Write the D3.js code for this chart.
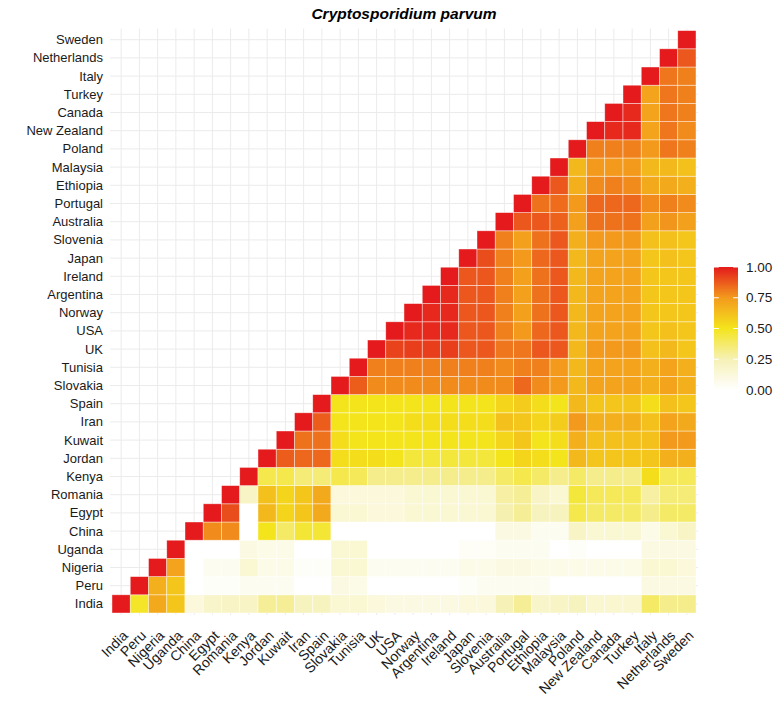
<!DOCTYPE html>
<html>
<head>
<meta charset="utf-8">
<script src="https://cdn.jsdelivr.net/npm/d3@7"></script>
<style>
  body { margin: 0; background: #fff; }
  svg { display: block; font-family: "Liberation Sans", Arial, sans-serif; }
</style>
</head>
<body>
<svg id="chart" width="778" height="709"></svg>
<script>
// countries, bottom row / left column first
const countries = ['India', 'Peru', 'Nigeria', 'Uganda', 'China', 'Egypt', 'Romania', 'Kenya',
  'Jordan', 'Kuwait', 'Iran', 'Spain', 'Slovakia', 'Tunisia', 'UK', 'USA', 'Norway', 'Argentina',
  'Ireland', 'Japan', 'Slovenia', 'Australia', 'Portugal', 'Ethiopia', 'Malaysia', 'Poland',
  'New Zealand', 'Canada', 'Turkey', 'Italy', 'Netherlands', 'Sweden'];

// similarity of row country i with column countries j = i..31
const similarityRows = [
  [1, .48, .7, .6, .12, .18, .2, .2, .3, .3, .22, .22, .15, .15, .12, .1, .1, .1, .1, .12, .12, .25, .3, .18, .2, .22, .16, .16, .16, .38, .32, .32],
  [1, .68, .6, 0, .02, .02, .05, .05, .05, 0, 0, .1, .08, 0, 0, 0, 0, 0, .02, .05, .05, .05, .05, 0, 0, 0, 0, 0, .1, .1, .1],
  [1, .72, 0, .05, .05, .15, .08, .08, .02, .02, .15, .15, .05, .05, .05, .05, .05, .08, .08, .1, .1, .08, .08, .08, .08, .08, .08, .15, .15, .12],
  [1, 0, 0, 0, .1, .08, .08, 0, 0, .15, .15, 0, 0, 0, 0, 0, .03, .03, .05, .05, .05, 0, .02, 0, 0, 0, .1, .1, .1],
  [1, .78, .78, 0, .5, .38, .46, .46, 0, 0, 0, 0, 0, 0, 0, 0, 0, .1, .1, .05, .05, .2, .15, .15, .15, .08, .15, .2],
  [1, .9, 0, .65, .55, .6, .7, .15, .15, .12, .12, .15, .15, .15, .15, .15, .26, .3, .22, .22, .42, .38, .38, .38, .32, .38, .38],
  [1, .2, .62, .55, .6, .7, .12, .12, .12, .12, .15, .15, .15, .15, .15, .28, .3, .2, .15, .45, .4, .4, .4, .28, .35, .35],
  [1, .42, .42, .35, .35, .42, .4, .32, .32, .32, .32, .32, .32, .32, .38, .42, .38, .32, .38, .32, .32, .32, .52, .4, .4],
  [1, .87, .85, .85, .52, .52, .52, .5, .45, .45, .45, .45, .45, .5, .55, .52, .5, .65, .6, .6, .6, .6, .68, .68],
  [1, .83, .83, .52, .5, .5, .5, .5, .5, .5, .5, .5, .55, .6, .5, .52, .68, .62, .62, .62, .62, .75, .75],
  [1, .87, .5, .5, .5, .5, .52, .52, .52, .52, .52, .62, .6, .55, .58, .75, .68, .68, .68, .62, .72, .7],
  [1, .5, .5, .5, .5, .5, .5, .5, .5, .5, .55, .58, .52, .5, .65, .6, .6, .6, .52, .62, .6],
  [1, .87, .78, .78, .78, .78, .78, .78, .78, .78, .85, .78, .75, .65, .72, .72, .72, .68, .72, .68],
  [1, .8, .8, .8, .8, .8, .8, .8, .78, .8, .8, .75, .65, .72, .72, .72, .68, .72, .68],
  [1, .92, .93, .93, .93, .88, .88, .82, .82, .88, .88, .65, .75, .75, .75, .62, .65, .6],
  [1, .97, .97, .97, .88, .88, .8, .75, .85, .88, .65, .72, .72, .72, .6, .62, .6],
  [1, .97, .97, .88, .88, .8, .73, .83, .88, .65, .72, .72, .72, .6, .6, .6],
  [1, .97, .88, .88, .8, .73, .83, .88, .65, .72, .72, .72, .6, .6, .6],
  [1, .88, .88, .8, .73, .83, .88, .65, .72, .72, .72, .6, .6, .6],
  [1, .9, .8, .75, .85, .88, .65, .72, .72, .72, .6, .62, .6],
  [1, .8, .73, .83, .88, .68, .75, .75, .75, .62, .62, .6],
  [1, .88, .88, .86, .73, .83, .83, .83, .73, .76, .73],
  [1, .83, .84, .75, .85, .85, .85, .78, .8, .78],
  [1, .88, .68, .78, .8, .78, .7, .7, .68],
  [1, .65, .75, .75, .75, .65, .65, .62],
  [1, .8, .8, .8, .75, .82, .8],
  [1, .97, .97, .72, .82, .78],
  [1, .97, .72, .82, .8],
  [1, .72, .82, .8],
  [1, .82, .8],
  [1, .88],
  [1]
];

const legendBreaks = [0, 0.25, 0.5, 0.75, 1];
const colorStops = ['#ffffff', '#f6f1b6', '#f4e41c', '#f39a1c', '#e41a1c'];

const svg = d3.select('#chart');
const plot = { left: 112, right: 696, top: 30.6, bottom: 613 };

const cells = similarityRows.flatMap((vals, i) =>
  vals.map((v, k) => ({ row: countries[i], col: countries[i + k], value: v })));

const x = d3.scaleBand().domain(countries).range([plot.left, plot.right]).padding(0);
const y = d3.scaleBand().domain(countries).range([plot.bottom, plot.top]).padding(0);
const color = d3.scaleLinear().domain(legendBreaks).range(colorStops).clamp(true);

// grid
const grid = svg.append('g').attr('class', 'grid');
grid.selectAll('.gx').data(countries).join('line')
  .attr('x1', d => x(d) + x.bandwidth() / 2).attr('x2', d => x(d) + x.bandwidth() / 2)
  .attr('y1', plot.top - 2).attr('y2', plot.bottom + 2)
  .attr('stroke', '#ebebeb').attr('stroke-width', 1);
grid.selectAll('.gy').data(countries).join('line')
  .attr('y1', d => y(d) + y.bandwidth() / 2).attr('y2', d => y(d) + y.bandwidth() / 2)
  .attr('x1', plot.left - 2).attr('x2', plot.right + 2)
  .attr('stroke', '#ebebeb').attr('stroke-width', 1);

// tiles
svg.append('g').selectAll('rect').data(cells).join('rect')
  .attr('x', d => x(d.col))
  .attr('y', d => y(d.row))
  .attr('width', x.bandwidth())
  .attr('height', y.bandwidth())
  .attr('fill', d => color(d.value))
  .attr('stroke', '#ffffff')
  .attr('stroke-opacity', 0.6)
  .attr('stroke-width', 0.7);

// y labels
svg.append('g').selectAll('text').data(countries).join('text')
  .attr('x', plot.left - 9)
  .attr('y', d => y(d) + y.bandwidth() / 2)
  .attr('text-anchor', 'end')
  .attr('dominant-baseline', 'central')
  .attr('font-size', '13px')
  .attr('fill', '#1a1a1a')
  .text(d => d);

// x labels, rotated 45
svg.append('g').selectAll('text').data(countries).join('text')
  .attr('transform', d => `translate(${x(d) + x.bandwidth() / 2 + 4},${plot.bottom + 20}) rotate(-45)`)
  .attr('text-anchor', 'end')
  .attr('dominant-baseline', 'central')
  .attr('font-size', '14px')
  .attr('fill', '#1a1a1a')
  .text(d => d);

// title
svg.append('text')
  .attr('x', (plot.left + plot.right) / 2)
  .attr('y', 19)
  .attr('text-anchor', 'middle')
  .attr('font-size', '15.5px')
  .attr('font-weight', 'bold')
  .attr('font-style', 'italic')
  .attr('fill', '#000')
  .text('Cryptosporidium parvum');

// legend colourbar
const lg = { x: 714, w: 24, y0: 390, y1: 267 };
const ly = d3.scaleLinear().domain([0, 1]).range([lg.y0, lg.y1]);
const defs = svg.append('defs');
const grad = defs.append('linearGradient').attr('id', 'lgGrad')
  .attr('x1', 0).attr('x2', 0).attr('y1', 1).attr('y2', 0);
legendBreaks.forEach((b, i) => grad.append('stop').attr('offset', b).attr('stop-color', colorStops[i]));
svg.append('rect')
  .attr('x', lg.x).attr('y', ly(1)).attr('width', lg.w).attr('height', ly(0) - ly(1))
  .attr('fill', 'url(#lgGrad)');
const ticks = svg.append('g');
ticks.selectAll('.tl').data(legendBreaks).join('line')
  .attr('x1', lg.x).attr('x2', lg.x + lg.w / 5)
  .attr('y1', d => ly(d)).attr('y2', d => ly(d))
  .attr('stroke', '#fff').attr('stroke-width', 1);
ticks.selectAll('.tr').data(legendBreaks).join('line')
  .attr('x1', lg.x + lg.w - lg.w / 5).attr('x2', lg.x + lg.w)
  .attr('y1', d => ly(d)).attr('y2', d => ly(d))
  .attr('stroke', '#fff').attr('stroke-width', 1);
svg.append('g').selectAll('text').data(legendBreaks).join('text')
  .attr('x', lg.x + lg.w + 8)
  .attr('y', d => ly(d))
  .attr('dominant-baseline', 'central')
  .attr('font-size', '13.5px')
  .attr('fill', '#1a1a1a')
  .text(d => d3.format('.2f')(d));
</script>
</body>
</html>
